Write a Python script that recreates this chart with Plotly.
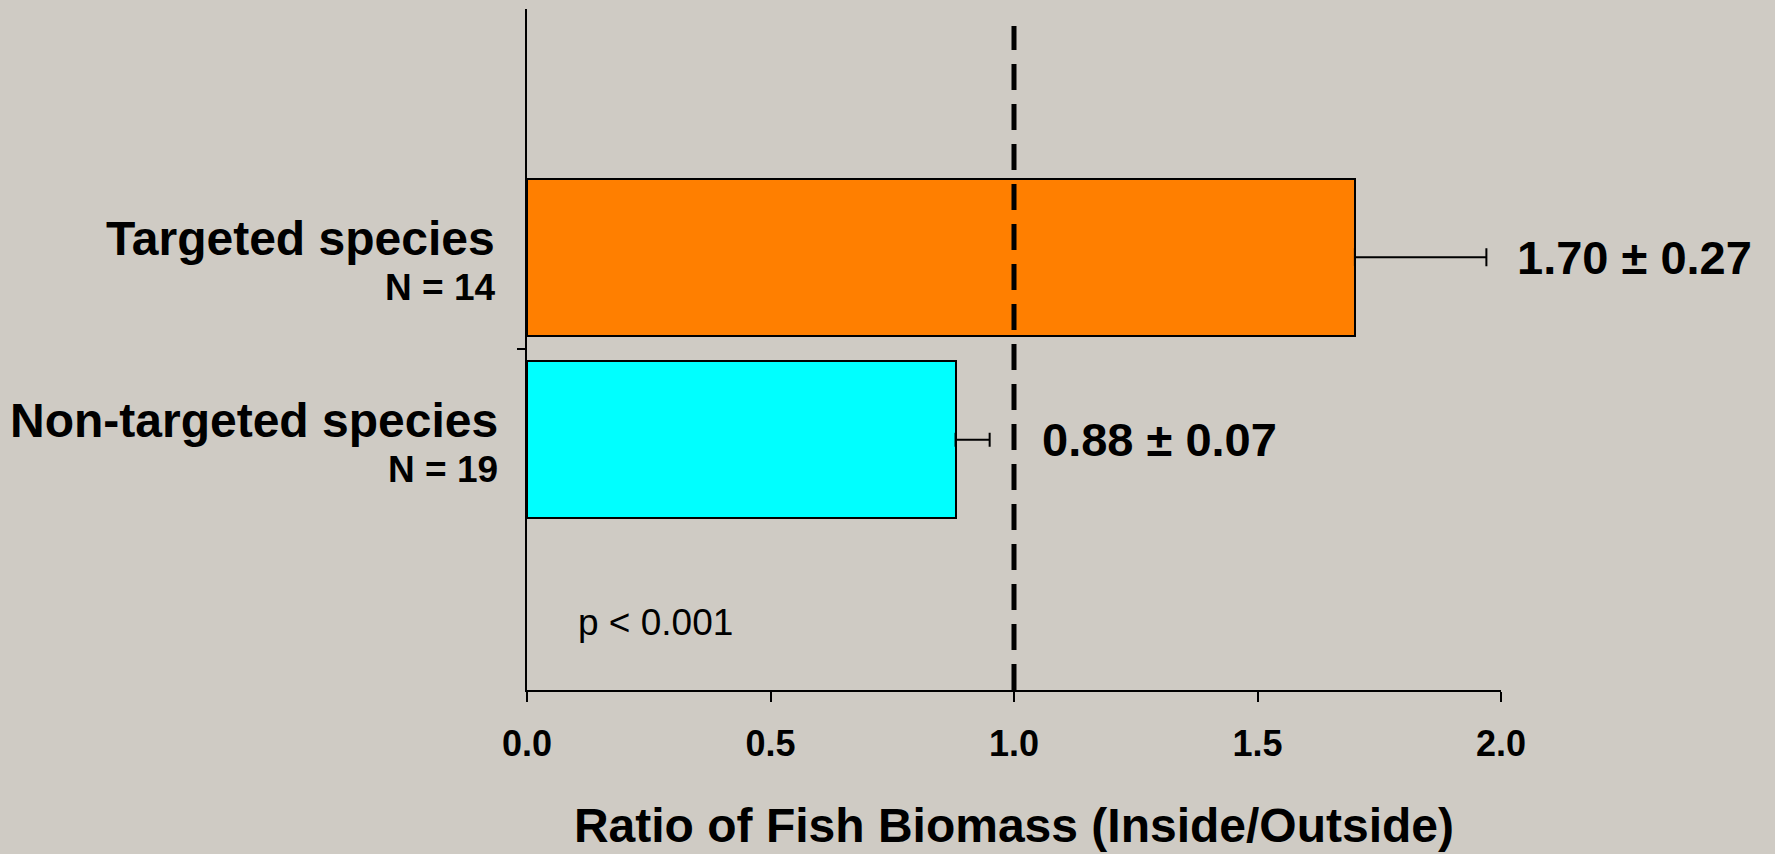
import plotly.graph_objects as go

# ---- data ----
categories = ["Targeted species", "Non-targeted species"]
sample_sizes = ["N = 14", "N = 19"]
ratios = [1.70, 0.88]
errors = [0.27, 0.07]
bar_colors = ["#FF7F00", "#00FFFF"]
cat_pos = [1, 0]
x_ticks = [0.0, 0.5, 1.0, 1.5, 2.0]
x_ticklabels = ["0.0", "0.5", "1.0", "1.5", "2.0"]
ref_line = 1.0
p_text = "p < 0.001"

FONT = "Arial, Liberation Sans, sans-serif"
BG = "#CFCBC4"

fig = go.Figure()
cap_widths = [9, 7]
for i in range(len(categories)):
    fig.add_trace(go.Bar(
        x=[ratios[i]], y=[cat_pos[i]], orientation="h",
        width=0.86,
        marker=dict(color=bar_colors[i], line=dict(color="black", width=2)),
        error_x=dict(type="data", array=[errors[i]], arrayminus=[0], symmetric=False,
                     color="black", thickness=2, width=cap_widths[i]),
        showlegend=False, hoverinfo="skip",
    ))

# reference dashed line
fig.add_shape(type="line", xref="x", yref="paper", x0=ref_line, x1=ref_line,
              y0=0, y1=0.975, line=dict(color="black", width=5, dash="26px,14px"))

annotations = []
value_shift = [29, 50]
label_shift = [-30, -27]
for i in range(len(categories)):
    annotations.append(dict(
        x=ratios[i] + errors[i], y=cat_pos[i], xref="x", yref="y",
        text=f"{ratios[i]:.2f} ± {errors[i]:.2f}", showarrow=False,
        xanchor="left", yanchor="middle", xshift=value_shift[i],
        font=dict(family=FONT, size=47, color="black", weight="bold")))
    annotations.append(dict(
        x=0, y=cat_pos[i], xref="paper", yref="y", text=categories[i],
        showarrow=False, xanchor="right", yanchor="middle", xshift=label_shift[i], yshift=19,
        font=dict(family=FONT, size=48, color="black", weight="bold")))
    annotations.append(dict(
        x=0, y=cat_pos[i], xref="paper", yref="y", text=sample_sizes[i],
        showarrow=False, xanchor="right", yanchor="middle", xshift=label_shift[i], yshift=-30,
        font=dict(family=FONT, size=37, color="black", weight="bold")))

annotations.append(dict(
    x=0.1, y=-1.0, xref="x", yref="y", text=p_text, showarrow=False,
    xanchor="left", yanchor="middle",
    font=dict(family=FONT, size=37, color="black")))

fig.update_layout(
    width=1775, height=854,
    paper_bgcolor=BG, plot_bgcolor=BG,
    margin=dict(l=527, r=274, t=9, b=164),
    bargap=0,
    annotations=annotations,
    xaxis=dict(
        range=[0, 2], tickvals=x_ticks, ticktext=x_ticklabels,
        showline=True, linecolor="black", linewidth=2,
        ticks="outside", ticklen=10, tickwidth=2, tickcolor="black",
        showgrid=False, zeroline=False,
        tickfont=dict(family=FONT, size=36, color="black", weight="bold"),
        ticklabelstandoff=11,
        title=dict(text="Ratio of Fish Biomass (Inside/Outside)",
                   font=dict(family=FONT, size=48, color="black", weight="bold"),
                   standoff=45),
    ),
    yaxis=dict(
        range=[-1.3726, 2.362], tickvals=[0.5], ticktext=[""],
        showline=True, linecolor="black", linewidth=2,
        ticks="outside", ticklen=8, tickwidth=2, tickcolor="black",
        showgrid=False, zeroline=False, showticklabels=False,
    ),
)

fig.write_html("out.html", config={"displayModeBar": False},
               post_script="document.body.style.margin='0px';document.body.style.background='" + BG + "';")
